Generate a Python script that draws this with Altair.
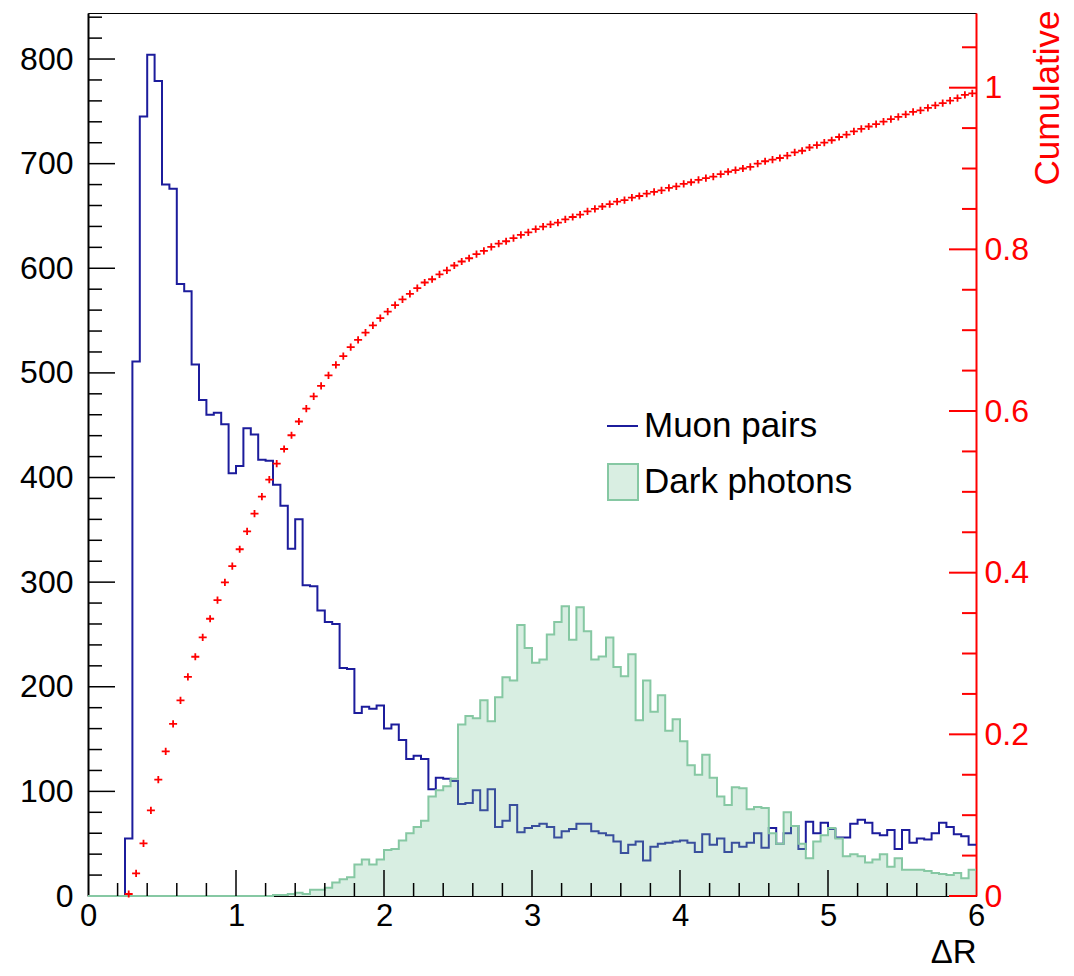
import altair as alt
import pandas as pd

# ---------------- data ----------------
n_bins = 120
bin_width = 0.05

muon_pairs = [
    0, 0, 0, 0, 0, 55, 511, 745, 804, 779,
    680, 676, 585, 578, 508, 474, 460, 462, 451, 404,
    411, 447, 441, 417, 416, 393, 373, 332, 360, 297,
    296, 273, 262, 260, 218, 217, 175, 181, 179, 182,
    160, 164, 149, 131, 134, 131, 102, 113, 112, 110,
    88, 89, 101, 82, 102, 66, 72, 87, 61, 65,
    67, 69, 66, 56, 62, 64, 69, 69, 62, 60,
    58, 52, 41, 49, 52, 34, 47, 50, 51, 52,
    53, 51, 42, 59, 49, 55, 42, 51, 47, 51,
    60, 46, 65, 50, 60, 67, 45, 71, 60, 70,
    64, 56, 56, 69, 73, 70, 60, 58, 63, 45,
    63, 51, 55, 54, 60, 70, 66, 59, 57, 49,
]

dark_photons = [
    0, 0, 0, 0, 0, 0, 0, 0, 0, 0,
    0, 0, 0, 0, 0, 0, 0, 0, 0, 0,
    0, 0, 0, 0, 0, 1, 1, 2, 3, 2,
    6, 6, 8, 13, 16, 18, 30, 35, 30, 35,
    44, 45, 53, 60, 66, 72, 95, 101, 105, 112,
    164, 172, 170, 187, 167, 190, 209, 206, 259, 237,
    223, 226, 250, 262, 277, 245, 276, 253, 226, 229,
    247, 219, 210, 231, 168, 206, 176, 192, 158, 169,
    148, 125, 116, 135, 113, 95, 87, 104, 103, 83,
    85, 84, 60, 50, 80, 67, 50, 36, 52, 58,
    65, 55, 38, 40, 38, 32, 35, 40, 28, 36,
    25, 25, 25, 24, 22, 21, 20, 22, 17, 25,
]

# cumulative fraction, one point per bin starting at bin 5
first_cum_bin = 5
cumulative = [
    0.0025, 0.028, 0.065, 0.106, 0.144,
    0.179, 0.213, 0.242, 0.271, 0.296, 0.320, 0.343, 0.366, 0.388, 0.408,
    0.429, 0.451, 0.473, 0.494, 0.515, 0.535, 0.553, 0.570, 0.587, 0.603,
    0.618, 0.631, 0.644, 0.657, 0.668, 0.679, 0.688, 0.697, 0.706, 0.715,
    0.723, 0.731, 0.738, 0.745, 0.752, 0.759, 0.763, 0.769, 0.774, 0.780,
    0.785, 0.789, 0.794, 0.798, 0.803, 0.807, 0.810, 0.814, 0.818, 0.821,
    0.825, 0.828, 0.831, 0.833, 0.837, 0.840, 0.843, 0.847, 0.850, 0.853,
    0.856, 0.859, 0.861, 0.864, 0.866, 0.869, 0.871, 0.873, 0.876, 0.878,
    0.881, 0.883, 0.886, 0.888, 0.890, 0.893, 0.896, 0.898, 0.900, 0.902,
    0.906, 0.909, 0.911, 0.913, 0.916, 0.920, 0.922, 0.926, 0.929, 0.932,
    0.935, 0.939, 0.942, 0.946, 0.949, 0.952, 0.955, 0.958, 0.961, 0.964,
    0.967, 0.970, 0.972, 0.975, 0.978, 0.981, 0.984, 0.987, 0.991, 0.993,
]

x_labels = [0, 1, 2, 3, 4, 5, 6]
x_minor = [0.2, 0.4, 0.6, 0.8, 1.2, 1.4, 1.6, 1.8, 2.2, 2.4, 2.6, 2.8,
           3.2, 3.4, 3.6, 3.8, 4.2, 4.4, 4.6, 4.8, 5.2, 5.4, 5.6, 5.8]
x_major = [1, 2, 3, 4, 5]
y_labels = [0, 100, 200, 300, 400, 500, 600, 700, 800]
y_minor = [v for v in range(20, 844, 20) if v % 100 != 0]
c_labels = [0, 0.2, 0.4, 0.6, 0.8, 1.0]
c_minor = [0.05, 0.1, 0.15, 0.25, 0.3, 0.35, 0.45, 0.5, 0.55, 0.65, 0.7, 0.75,
           0.85, 0.9, 0.95, 1.05]
legend_labels = ["Muon pairs", "Dark photons"]

# ---------------- tables ----------------
edges = [round(i * bin_width, 4) for i in range(n_bins + 1)]
centers = [round((i + 0.5) * bin_width, 4) for i in range(n_bins)]
hist_df = pd.DataFrame({
    "x": edges,
    "muon": muon_pairs + [muon_pairs[-1]],
    "dark": dark_photons + [dark_photons[-1]],
})
cum_df = pd.DataFrame({"x": centers[first_cum_bin:], "c": cumulative})

W, H = 888, 883
Y_MAX = 844
C_MAX = 1.0924
FONT = "Liberation Sans"
BLUE = "#1c1c9c"
GREEN = "#86c8a3"
GREEN_FILL = "#7fc8a0"
RED = "#ff0000"
LAB = 32

xscale = alt.Scale(domain=[0, 6], nice=False, zero=False)
yscale = alt.Scale(domain=[0, Y_MAX], nice=False, zero=True)
cscale = alt.Scale(domain=[0, C_MAX], nice=False, zero=True)

x_axis = alt.Axis(values=x_labels, format="d", ticks=False, domain=False, grid=False,
                  labelFontSize=31, labelPadding=5, labelColor="black",
                  labelFlush=False, labelOverlap=False,
                  title="ΔR", titleFontSize=33, titleFontWeight="normal",
                  titleX=W, titleY=66, titleAlign="right",
                  titleBaseline="alphabetic", titleColor="black")
y_axis = alt.Axis(values=y_labels, ticks=False, domain=True, domainColor="black",
                  domainWidth=2, grid=False, labelFontSize=LAB, labelPadding=15,
                  labelColor="black", labelFlush=False, labelOverlap=False, title=None)
c_axis = alt.Axis(orient="right", values=c_labels, format="~g", ticks=False,
                  domain=True, domainColor=RED, domainWidth=2, grid=False,
                  labelFontSize=LAB, labelPadding=8, labelColor=RED,
                  labelFlush=False, labelOverlap=False,
                  title="Cumulative", titleColor=RED, titleFontSize=35,
                  titleFontWeight="normal", titleAngle=270, titleX=82, titleY=-3,
                  titleAlign="right", titleBaseline="alphabetic")

X = alt.X("x:Q", scale=xscale, axis=x_axis)

base = alt.Chart(hist_df)
blue_line = base.mark_line(interpolate="step-after", color=BLUE, strokeWidth=2).encode(
    x=X, y=alt.Y("muon:Q", scale=yscale, axis=y_axis))
green_area = base.mark_area(interpolate="step-after", color=GREEN_FILL, opacity=0.3).encode(
    x=X, y=alt.Y("dark:Q", scale=yscale, axis=y_axis))
green_line = base.mark_line(interpolate="step-after", color=GREEN, strokeWidth=2).encode(
    x=X, y=alt.Y("dark:Q", scale=yscale, axis=y_axis))

ylm = alt.Chart(pd.DataFrame({"v": y_labels[1:]})).mark_rule(color="black", strokeWidth=1.5).encode(
    y=alt.Y("v:Q", scale=yscale, axis=y_axis), x=alt.value(0), x2=alt.value(27))
ylmin = alt.Chart(pd.DataFrame({"v": y_minor})).mark_rule(color="black", strokeWidth=1.5).encode(
    y=alt.Y("v:Q", scale=yscale, axis=y_axis), x=alt.value(0), x2=alt.value(14))
xlm = alt.Chart(pd.DataFrame({"x": x_major})).mark_rule(color="black", strokeWidth=1.5).encode(
    x=X, y=alt.value(H), y2=alt.value(H - 26))
xlmin = alt.Chart(pd.DataFrame({"x": x_minor})).mark_rule(color="black", strokeWidth=1.5).encode(
    x=X, y=alt.value(H), y2=alt.value(H - 13))

leg_line = alt.Chart(pd.DataFrame({"t": legend_labels[:1]})).mark_rule(color=BLUE, strokeWidth=2).encode(
    x=alt.value(519), x2=alt.value(550), y=alt.value(413))
leg_box = alt.Chart(pd.DataFrame({"t": legend_labels[1:]})).mark_rect(
    fill="#d9eee2", stroke=GREEN, strokeWidth=2).encode(
    x=alt.value(520), x2=alt.value(550), y=alt.value(451), y2=alt.value(487))
leg_text1 = alt.Chart(pd.DataFrame({"t": legend_labels[:1]})).mark_text(
    align="left", baseline="alphabetic", fontSize=35, font=FONT, color="black").encode(
    x=alt.value(556), y=alt.value(424), text="t:N")
leg_text2 = alt.Chart(pd.DataFrame({"t": legend_labels[1:]})).mark_text(
    align="left", baseline="alphabetic", fontSize=35, font=FONT, color="black").encode(
    x=alt.value(556), y=alt.value(480), text="t:N")

layer_left = alt.layer(blue_line, green_area, green_line, ylm, ylmin, xlm, xlmin,
                       leg_line, leg_box, leg_text1, leg_text2)

C = alt.Y("c:Q", scale=cscale, axis=c_axis)
red_pts = alt.Chart(cum_df).mark_point(
    shape="M-1,0L1,0M0,-0.9L0,0.9", size=64, filled=False, color=RED,
    strokeWidth=1.8, opacity=1).encode(x=X, y=C)
rmaj = alt.Chart(pd.DataFrame({"c": c_labels})).mark_rule(color=RED, strokeWidth=2).encode(
    y=C, x=alt.value(W), x2=alt.value(W - 27))
rmin = alt.Chart(pd.DataFrame({"c": c_minor})).mark_rule(color=RED, strokeWidth=2).encode(
    y=C, x=alt.value(W), x2=alt.value(W - 14))

layer_right = alt.layer(red_pts, rmaj, rmin)

chart = alt.layer(layer_left, layer_right).resolve_scale(y="independent").properties(
    width=W, height=H,
    autosize=alt.AutoSizeParams(type="none"),
    padding={"left": 80, "top": 5, "right": 88, "bottom": 72},
    background="white",
).configure_view(stroke="black", strokeWidth=1).configure_axis(
    labelFont=FONT, titleFont=FONT)

chart.save("out.html", embed_options={"renderer": "svg", "actions": False})
